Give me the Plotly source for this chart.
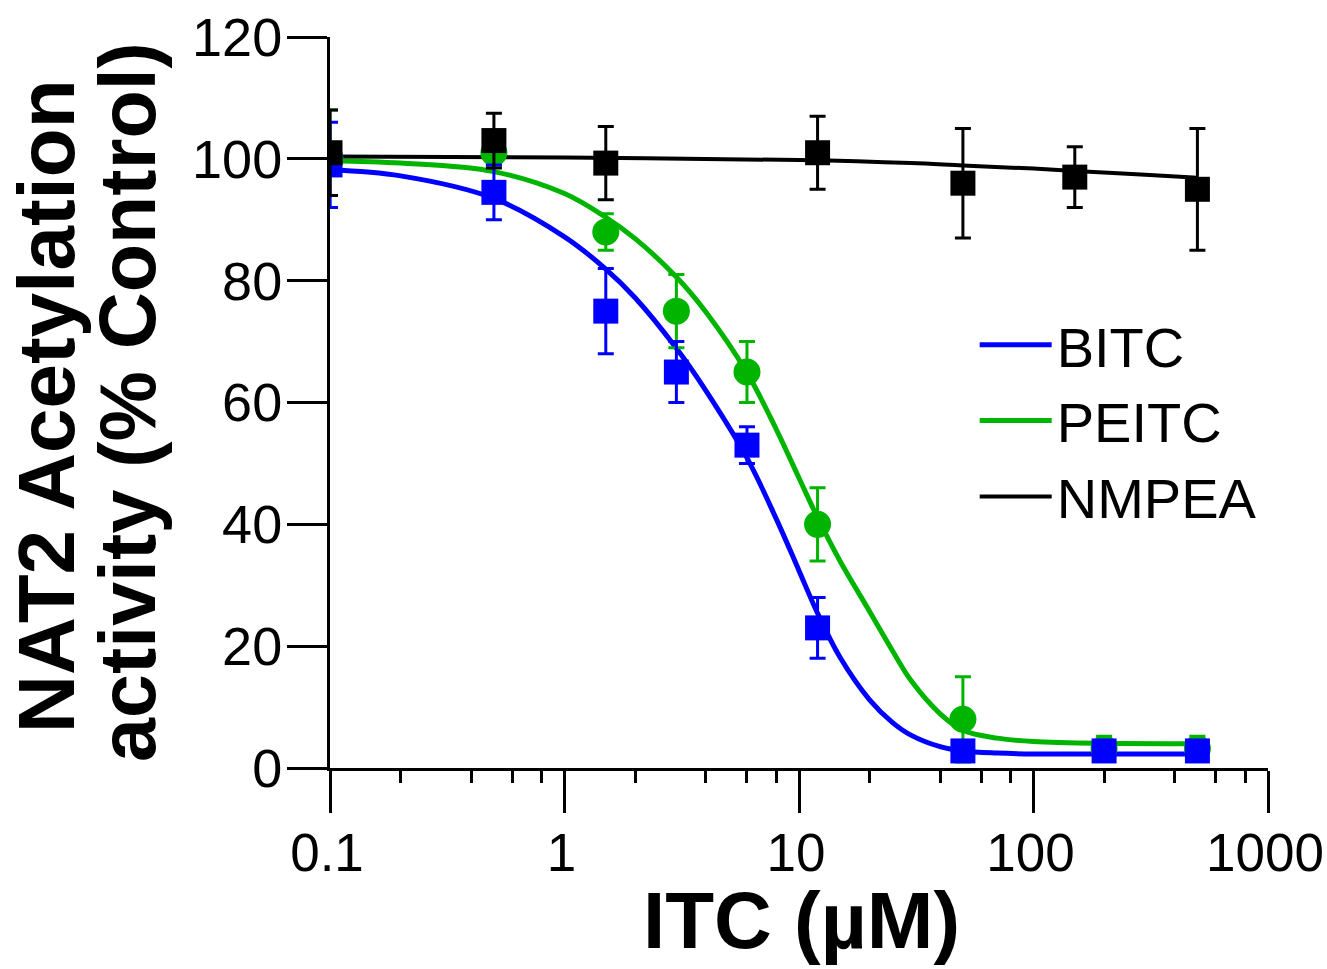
import plotly.graph_objects as go

# ---------------- data ----------------
conc = [0.1, 0.5, 1.5, 3, 6, 12, 50, 200, 500]

bitc_mean = [99, 94.5, 75, 65, 53, 23, 2.8, 2.8, 2.8]
bitc_err = [7, 4.5, 7, 5, 3, 5, 1.2, 1.2, 1.2]

peitc_mean = [100, 101, 88, 75, 65, 40, 8, 3.2, 3.2]
peitc_err = [8, 2, 3, 6, 5, 6, 7, 2, 2]

nmpea_conc = [0.1, 0.5, 1.5, 12, 50, 150, 500]
nmpea_mean = [101, 103, 99.3, 101, 96, 97, 95]
nmpea_err = [7, 4.5, 6, 6, 9, 5, 10]

# fitted curves, values
bitc_fit_x = [0.1, 0.2, 0.5, 1, 1.5, 2, 3, 4, 6, 8, 10, 12, 15, 20, 25, 30, 40, 50, 70, 100, 200, 500]
bitc_fit_y = [98.2, 97.2, 93.5, 87.2, 81.9, 77.2, 68.9, 62.0, 50.9, 40.9, 32.4, 25.4, 18.1, 11.2, 7.5, 5.4, 3.5, 2.8, 2.45, 2.3, 2.3, 2.3]

peitc_fit_x = [0.1, 0.2, 0.5, 1, 1.5, 2, 3, 4, 6, 8, 10, 12, 15, 20, 25, 30, 40, 50, 70, 100, 200, 500]
peitc_fit_y = [99.7, 99.3, 97.9, 94.3, 90.4, 86.9, 80.6, 74.9, 64.9, 55.6, 47.6, 41.1, 33.9, 25.7, 19.3, 14.4, 8.9, 6.2, 4.9, 4.35, 4.05, 4.0]

nmpea_fit_x = [0.1, 1, 10, 30, 50, 100, 150, 300, 500]
nmpea_fit_y = [100.4, 100.2, 99.8, 99.3, 98.9, 98.4, 98.0, 97.4, 96.9]

names = ["BITC", "PEITC", "NMPEA"]
colors = {"BITC": "#0000ff", "PEITC": "#00b400", "NMPEA": "#000000"}

x_tickvals = [0.1, 1, 10, 100, 1000]
x_ticktext = ["0.1", "1", "10", "100", "1000"]
x_minor = [m * d for d in [0.1, 1, 10, 100] for m in [2, 4, 6, 8]]
y_tickvals = [0, 20, 40, 60, 80, 100, 120]

FONT = "Liberation Sans, Arial, Helvetica, sans-serif"

fig = go.Figure()

# curves (these carry the legend)
for nm, fx, fy in [("BITC", bitc_fit_x, bitc_fit_y),
                   ("PEITC", peitc_fit_x, peitc_fit_y),
                   ("NMPEA", nmpea_fit_x, nmpea_fit_y)]:
    fig.add_trace(go.Scatter(
        x=fx, y=fy, mode="lines", name=nm,
        line=dict(color=colors[nm], width=5 if nm != "NMPEA" else 4, shape="spline", smoothing=1.0),
        showlegend=True, hoverinfo="skip"))

# points with error bars (green first so blue squares sit on top, black last)
fig.add_trace(go.Scatter(
    x=conc, y=peitc_mean, mode="markers", name="PEITC", showlegend=False,
    marker=dict(symbol="circle", size=27, color=colors["PEITC"]),
    error_y=dict(type="data", array=peitc_err, visible=True, color=colors["PEITC"],
                 thickness=3, width=8)))
fig.add_trace(go.Scatter(
    x=conc, y=bitc_mean, mode="markers", name="BITC", showlegend=False,
    marker=dict(symbol="square", size=25, color=colors["BITC"]),
    error_y=dict(type="data", array=bitc_err, visible=True, color=colors["BITC"],
                 thickness=3, width=8)))
fig.add_trace(go.Scatter(
    x=nmpea_conc, y=nmpea_mean, mode="markers", name="NMPEA", showlegend=False,
    marker=dict(symbol="square", size=25, color=colors["NMPEA"]),
    error_y=dict(type="data", array=nmpea_err, visible=True, color=colors["NMPEA"],
                 thickness=3, width=8)))

fig.update_layout(
    width=1327, height=969,
    autosize=False,
    margin=dict(l=330, r=59, t=37, b=201, autoexpand=False),
    paper_bgcolor="white", plot_bgcolor="white",
    font=dict(family=FONT, color="black"),
    showlegend=True,
    legend=dict(
        x=0.6873, xanchor="left", y=0.6376, yanchor="top",
        font=dict(family=FONT, size=56, color="black"),
        bgcolor="rgba(0,0,0,0)", borderwidth=0,
        itemwidth=72, tracegroupgap=0,
    ),
    xaxis=dict(
        type="log", range=[-1, 3], automargin=False,
        tickvals=x_tickvals, ticktext=x_ticktext,
        ticks="outside", ticklen=42, tickwidth=3, tickcolor="black",
        showline=True, linewidth=3, linecolor="black",
        showgrid=False, zeroline=False,
        tickfont=dict(family=FONT, size=53, color="black"),
        ticklabelstandoff=-6,
        ticklabelshift=-3,
        ticklabeloverflow="allow",
        minor=dict(tickvals=x_minor, ticks="outside", ticklen=12, tickwidth=3,
                   tickcolor="black", showgrid=False),
    ),
    yaxis=dict(
        range=[0, 120], automargin=False,
        tickvals=y_tickvals,
        ticks="outside", ticklen=40, tickwidth=3, tickcolor="black",
        showline=True, linewidth=3, linecolor="black",
        showgrid=False, zeroline=False,
        tickfont=dict(family=FONT, size=54, color="black"),
        ticklabelstandoff=-6,
    ),
    annotations=[
        dict(text="<b>ITC (µM)</b>", xref="paper", yref="paper",
             x=0.503, y=-0.2093, xanchor="center", yanchor="middle",
             showarrow=False, font=dict(family=FONT, size=80, color="black")),
        dict(text="<b>NAT2 Acetylation</b>", xref="paper", yref="paper",
             x=-0.3017, y=0.494, xanchor="center", yanchor="middle", textangle=-90,
             showarrow=False, font=dict(family=FONT, size=80, color="black")),
        dict(text="<b>activity (% Control)</b>", xref="paper", yref="paper",
             x=-0.2154, y=0.5007, xanchor="center", yanchor="middle", textangle=-90,
             showarrow=False, font=dict(family=FONT, size=79, color="black")),
    ],
)

fig.write_html("out.html", config={"displayModeBar": False},
               post_script="document.body.style.margin='0px';document.body.style.overflow='hidden';")
